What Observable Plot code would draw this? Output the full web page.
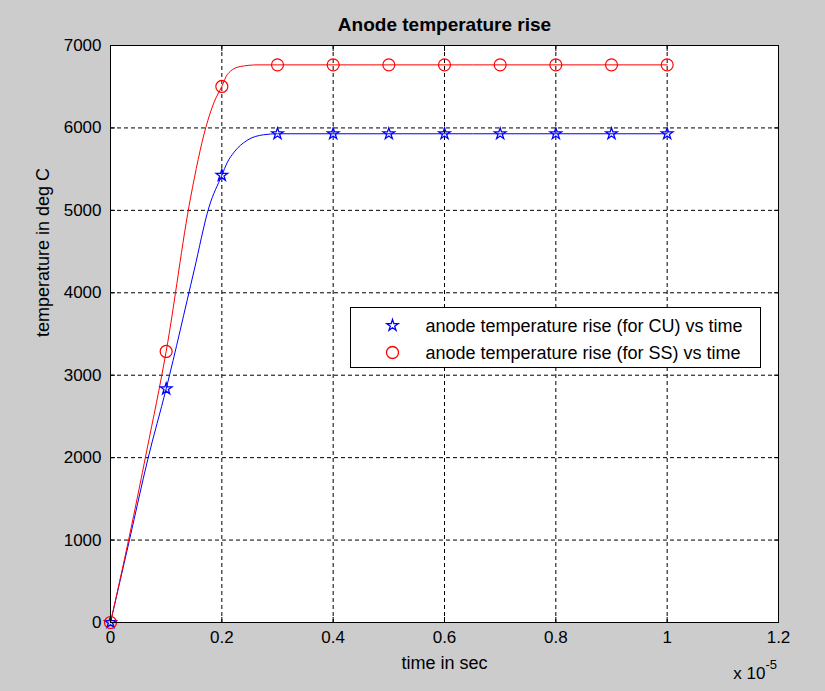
<!DOCTYPE html>
<html><head><meta charset="utf-8">
<script src="https://cdn.jsdelivr.net/npm/d3@7"></script>
<script src="https://cdn.jsdelivr.net/npm/@observablehq/plot@0.6"></script>
<style>
html,body{margin:0;padding:0;background:#cccccc;}
#fig{position:relative;width:825px;height:691px;background:#cccccc;overflow:hidden;}
#fig svg.overlay{position:absolute;left:0;top:0;pointer-events:none;}
</style></head><body>
<div id="fig"></div>
<script>
// ---- text ----
const title = "Anode temperature rise";
const xLabel = "time in sec";
const yLabel = "temperature in deg C";
const xExponentBase = "x 10";
const xExponent = "-5";
const seriesNames = ["anode temperature rise (for CU) vs time", "anode temperature rise (for SS) vs time"];

// ---- ticks ----
const xTicks = [0, 0.2, 0.4, 0.6, 0.8, 1.0, 1.2];
const yTicks = [0, 1000, 2000, 3000, 4000, 5000, 6000, 7000];

// ---- marker data (time in units of 1e-5 s) ----
const markerTime = [0, 0.1, 0.2, 0.3, 0.4, 0.5, 0.6, 0.7, 0.8, 0.9, 1.0];
const cuMarkerTemp = [0, 2835, 5425, 5929, 5929, 5929, 5929, 5929, 5929, 5929, 5929];
const ssMarkerTemp = [0, 3288, 6503, 6765, 6765, 6765, 6765, 6765, 6765, 6765, 6765];

// ---- curve data ----
const cuCurveTime = [0, 0.034, 0.067, 0.1, 0.15, 0.177, 0.2, 0.21, 0.222, 0.245, 0.275, 0.3, 1.0];
const cuCurveTemp = [0, 1000, 1980, 2835, 4265, 5040, 5425, 5584, 5706, 5848, 5917, 5929, 5929];
const ssCurveTime = [0, 0.034, 0.065, 0.1, 0.144, 0.171, 0.186, 0.2, 0.21, 0.233, 0.265, 0.3, 1.0];
const ssCurveTemp = [0, 1050, 2080, 3288, 5160, 6000, 6310, 6503, 6650, 6745, 6765, 6765, 6765];

const colors = ["#0000ff", "#ff0000"];
const symbols = ["star", "circle"];
const symbolR = [3.6, 6];

const cuCurve = cuCurveTime.map((t, i) => ({t, v: cuCurveTemp[i]}));
const ssCurve = ssCurveTime.map((t, i) => ({t, v: ssCurveTemp[i]}));
const cuMarkers = markerTime.map((t, i) => ({t, v: cuMarkerTemp[i]}));
const ssMarkers = markerTime.map((t, i) => ({t, v: ssMarkerTemp[i]}));

const font = "'Liberation Sans', Arial, Helvetica, sans-serif";
const grid = {stroke: "black", strokeOpacity: 1, strokeWidth: 1, strokeDasharray: "4,3"};

const plot = Plot.plot({
  width: 825, height: 691,
  marginLeft: 110, marginRight: 47, marginTop: 45, marginBottom: 69,
  style: {fontFamily: font, fontSize: "17px", background: "#cccccc", color: "black", overflow: "visible"},
  x: {domain: [0, 1.2]},
  y: {domain: [0, 7000]},
  marks: [
    Plot.frame({fill: "white", stroke: "none"}),
    Plot.gridX(xTicks, grid),
    Plot.gridY(yTicks, grid),
    Plot.axisX(xTicks, {anchor: "bottom", tickSize: 0, tickPadding: 8, label: null, tickFormat: d => String(+d.toFixed(1))}),
    Plot.axisX(xTicks, {anchor: "bottom", tickSize: -5, tickFormat: () => "", label: null}),
    Plot.axisX(xTicks, {anchor: "top", tickSize: -5, tickFormat: () => "", label: null}),
    Plot.axisY(yTicks, {anchor: "left", tickSize: 0, tickPadding: 9, label: null, tickFormat: d => String(d)}),
    Plot.axisY(yTicks, {anchor: "left", tickSize: -5, tickFormat: () => "", label: null}),
    Plot.axisY(yTicks, {anchor: "right", tickSize: -5, tickFormat: () => "", label: null}),
    Plot.line(cuCurve, {x: "t", y: "v", stroke: colors[0], strokeWidth: 1, curve: "monotone-x"}),
    Plot.line(ssCurve, {x: "t", y: "v", stroke: colors[1], strokeWidth: 1, curve: "monotone-x"}),
    Plot.dot(cuMarkers, {x: "t", y: "v", symbol: symbols[0], stroke: colors[0], fill: "none", r: symbolR[0], strokeWidth: 1.3}),
    Plot.dot(ssMarkers, {x: "t", y: "v", symbol: symbols[1], stroke: colors[1], fill: "none", r: symbolR[1], strokeWidth: 1.2}),
    Plot.frame({stroke: "black", strokeWidth: 1}),
    Plot.text([title], {text: d => d, frameAnchor: "top", dy: -21, lineAnchor: "middle", fontWeight: "bold", fontSize: 19}),
    Plot.text([xLabel], {text: d => d, frameAnchor: "bottom", dy: 41, lineAnchor: "middle", fontSize: 18}),
    Plot.text([yLabel], {text: d => d, frameAnchor: "left", dx: -67, dy: 3, rotate: -90, lineAnchor: "middle", fontSize: 18}),
    Plot.text([xExponentBase], {text: d => d, frameAnchor: "bottom-right", dx: -13, dy: 51.5, textAnchor: "end", lineAnchor: "middle", fontSize: 17}),
    Plot.text([xExponent], {text: d => d, frameAnchor: "bottom-right", dx: -13, dy: 42, textAnchor: "start", lineAnchor: "middle", fontSize: 13})
  ]
});

const fig = document.getElementById("fig");
fig.appendChild(plot);

// ---- legend overlay ----
const svg = d3.select(fig).append("svg").attr("class", "overlay")
  .attr("width", 825).attr("height", 691);
const lg = svg.append("g").attr("transform", "translate(350.5,307.5)");
lg.append("rect").attr("width", 410).attr("height", 60).attr("fill", "white").attr("stroke", "black");
const symMap = {star: d3.symbolStar, circle: d3.symbolCircle};
seriesNames.forEach((name, i) => {
  const cy = 18 + i * 27;
  lg.append("path")
    .attr("d", d3.symbol(symMap[symbols[i]], symbolR[i] * symbolR[i] * Math.PI)())
    .attr("transform", `translate(42,${cy})`)
    .attr("fill", "none").attr("stroke", colors[i]).attr("stroke-width", 1.3);
  lg.append("text").attr("x", 75).attr("y", cy).attr("dy", "0.35em")
    .attr("font-family", font).attr("font-size", 18).attr("fill", "black")
    .text(name);
});
</script>
</body></html>
